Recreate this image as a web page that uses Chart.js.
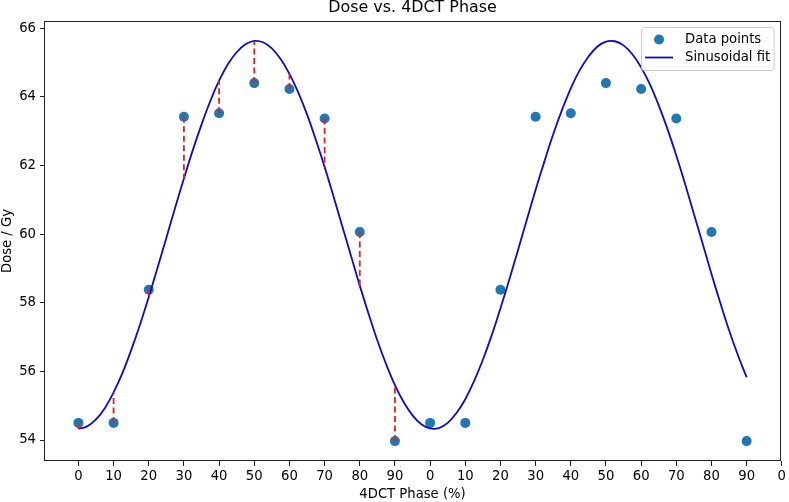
<!DOCTYPE html>
<html>
<head>
<meta charset="utf-8">
<title>Dose vs. 4DCT Phase</title>
<script src="https://cdn.jsdelivr.net/npm/chart.js@4.4.1/dist/chart.umd.min.js"></script>
<style>
  html, body { margin: 0; padding: 0; background: #fff; }
  #wrap { width: 789px; height: 502px; }
</style>
</head>
<body>
<div id="wrap"><canvas id="doseChart" width="789" height="502"></canvas></div>
<script>
// tick labels along x (two breathing cycles, phase in %)
const phaseTicks = ['0','10','20','30','40','50','60','70','80','90',
                    '0','10','20','30','40','50','60','70','80','90','0'];
const doseTicks = [54, 56, 58, 60, 62, 64, 66];

// measured dose per phase bin (second cycle repeats the first)
const doseValues = [54.50, 54.50, 58.38, 63.42, 63.52, 64.40, 64.23, 63.37, 60.06, 53.97,
                    54.50, 54.50, 58.38, 63.42, 63.52, 64.40, 64.23, 63.37, 60.06, 53.97];

// sinusoidal fit, every quarter bin
const fitX = [0, 0.25, 0.5, 0.75, 1, 1.25, 1.5, 1.75, 2, 2.25, 2.5, 2.75, 3, 3.25, 3.5, 3.75,
              4, 4.25, 4.5, 4.75, 5, 5.25, 5.5, 5.75, 6, 6.25, 6.5, 6.75, 7, 7.25, 7.5, 7.75,
              8, 8.25, 8.5, 8.75, 9, 9.25, 9.5, 9.75, 10, 10.25, 10.5, 10.75, 11, 11.25, 11.5, 11.75,
              12, 12.25, 12.5, 12.75, 13, 13.25, 13.5, 13.75, 14, 14.25, 14.5, 14.75, 15, 15.25, 15.5, 15.75,
              16, 16.25, 16.5, 16.75, 17, 17.25, 17.5, 17.75, 18, 18.25, 18.5, 18.75, 19];
const fitY = [54.33, 54.40, 54.60, 54.93, 55.39, 55.95, 56.62, 57.36, 58.17, 59.02, 59.89, 60.77,
              61.62, 62.44, 63.19, 63.88, 64.47, 64.95, 65.30, 65.53, 65.63, 65.59, 65.41, 65.10,
              64.67, 64.13, 63.49, 62.75, 61.96, 61.11, 60.24, 59.37, 58.50, 57.68, 56.90, 56.21,
              55.60, 55.10, 54.72, 54.46, 54.34, 54.35, 54.50, 54.79, 55.19, 55.72, 56.34, 57.05,
              57.84, 58.67, 59.54, 60.42, 61.29, 62.12, 62.91, 63.62, 64.25, 64.77, 65.17, 65.46,
              65.61, 65.62, 65.50, 65.24, 64.86, 64.36, 63.75, 63.06, 62.29, 61.46, 60.59, 59.72,
              58.84, 58.00, 57.20, 56.48, 55.83];

const pointColor = '#1f77b4';
const fitColor = '#0a0ad2';
const residColor = '#ee1c1c';
const FONT = "'DejaVu Sans', sans-serif";

Chart.defaults.font.family = FONT;
Chart.defaults.font.size = 13.2;
Chart.defaults.color = '#000';

const datasets = [];
datasets.push({
  label: 'Data points',
  data: doseValues.map((v, i) => ({ x: i, y: v })),
  backgroundColor: pointColor,
  borderWidth: 0,
  pointRadius: 5,
  pointHoverRadius: 5,
  showLine: false,
  order: 3
});
datasets.push({
  label: 'Sinusoidal fit',
  data: fitX.map((x, i) => ({ x: x, y: fitY[i] })),
  borderColor: fitColor,
  borderWidth: 1.8,
  pointRadius: 0,
  showLine: true,
  tension: 0.4,
  fill: false,
  order: 2
});
// residuals: first cycle only (fit sampled 4x per bin)
for (let i = 0; i < 10; i++) {
  datasets.push({
    label: 'resid' + i,
    data: [{ x: i, y: doseValues[i] }, { x: i, y: fitY[i * 4] }],
    borderColor: residColor,
    borderWidth: 1.8,
    borderDash: [6, 3.5],
    pointRadius: 0,
    showLine: true,
    fill: false,
    order: 1
  });
}

const framePlugin = {
  id: 'frame',
  afterDraw(chart) {
    const a = chart.chartArea, ctx = chart.ctx;
    ctx.save();
    ctx.strokeStyle = '#222';
    ctx.lineWidth = 1;
    ctx.strokeRect(Math.round(a.left) - 0.5, Math.round(a.top) + 0.5,
                   Math.round(a.right - a.left) + 1, Math.round(a.bottom - a.top) - 1);

    // legend, upper right inside the axes
    const bx = a.right - 139, by = a.top + 6, bw = 132.5, bh = 43;
    ctx.fillStyle = 'rgba(255,255,255,0.8)';
    ctx.strokeStyle = '#cccccc';
    ctx.beginPath();
    ctx.roundRect(bx + 0.5, by + 0.5, bw, bh, 3);
    ctx.fill();
    ctx.stroke();

    ctx.fillStyle = pointColor;
    ctx.beginPath();
    ctx.arc(bx + 18, by + 12.5, 5, 0, Math.PI * 2);
    ctx.fill();

    ctx.strokeStyle = fitColor;
    ctx.lineWidth = 1.8;
    ctx.beginPath();
    ctx.moveTo(bx + 4, by + 30.5);
    ctx.lineTo(bx + 32, by + 30.5);
    ctx.stroke();

    ctx.fillStyle = '#000';
    ctx.font = '13.2px ' + FONT;
    ctx.textBaseline = 'middle';
    ctx.textAlign = 'left';
    ctx.fillText('Data points', bx + 44, by + 12.5);
    ctx.fillText('Sinusoidal fit', bx + 44, by + 30.5);
    ctx.restore();
  }
};

const ctx = document.getElementById('doseChart').getContext('2d');
const doseChart = new Chart(ctx, {
  type: 'scatter',
  data: { datasets: datasets },
  options: {
    responsive: false,
    animation: false,
    devicePixelRatio: 1,
    layout: { padding: { left: 0, right: 5, top: 0, bottom: 0 } },
    plugins: {
      legend: { display: false },
      tooltip: { enabled: false },
      title: {
        display: true,
        text: 'Dose vs. 4DCT Phase',
        fullSize: false,
        font: { size: 15.9, weight: 'normal', lineHeight: 1.0 },
        padding: { top: 0, bottom: 5.1 }
      }
    },
    scales: {
      x: {
        type: 'linear',
        min: -0.95,
        max: 19.95,
        afterBuildTicks: (axis) => { axis.ticks = phaseTicks.map((t, i) => ({ value: i })); },
        afterFit: (axis) => { axis.height = 41; },
        ticks: {
          autoSkip: false,
          maxRotation: 0,
          padding: 3,
          callback: (v) => phaseTicks[v]
        },
        grid: { display: true, drawOnChartArea: false, drawTicks: true, tickLength: 5, tickColor: '#222' },
        border: { display: false },
        title: { display: true, text: '4DCT Phase (%)', padding: { top: 0, bottom: 0 } }
      },
      y: {
        type: 'linear',
        min: 53.39,
        max: 66.21,
        afterBuildTicks: (axis) => { axis.ticks = doseTicks.map(v => ({ value: v })); },
        afterFit: (axis) => { axis.width = 45; },
        ticks: {
          padding: 4,
          callback: (v) => String(v)
        },
        grid: { display: true, drawOnChartArea: false, drawTicks: true, tickLength: 5, tickColor: '#222' },
        border: { display: false },
        title: { display: true, text: 'Dose / Gy', padding: { top: 0, bottom: 0 } }
      }
    }
  },
  plugins: [framePlugin]
});
</script>
</body>
</html>
